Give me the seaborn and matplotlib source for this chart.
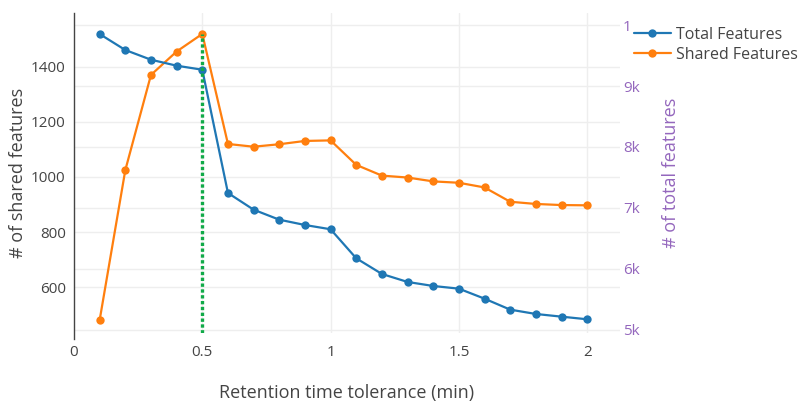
import matplotlib
matplotlib.use("Agg")
import matplotlib.pyplot as plt
import seaborn as sns
import pandas as pd
import numpy as np

# ---- data ----
tolerance = [0.1, 0.2, 0.3, 0.4, 0.5, 0.6, 0.7, 0.8, 0.9, 1.0,
             1.1, 1.2, 1.3, 1.4, 1.5, 1.6, 1.7, 1.8, 1.9, 2.0]
shared_features = [480, 1025, 1371, 1456, 1520, 1120, 1110, 1119, 1131, 1133,
                   1044, 1005, 998, 984, 979, 962, 910, 902, 898, 897]
total_features = [9852, 9590, 9431, 9333, 9267, 7246, 6972, 6808, 6721, 6651,
                  6175, 5918, 5787, 5721, 5677, 5513, 5333, 5262, 5218, 5175]
threshold = 0.5
x_ticks = [0, 0.5, 1, 1.5, 2]
x_tick_labels = ["0", "0.5", "1", "1.5", "2"]
left_ticks = [600, 800, 1000, 1200, 1400]
right_ticks = [5000, 6000, 7000, 8000, 9000, 10000]
right_tick_labels = ["5k", "6k", "7k", "8k", "9k", "1"]

df = pd.DataFrame({"tol": tolerance, "shared": shared_features, "total": total_features})

sns.set_theme(style="white")
plt.rcParams["font.family"] = ["Open Sans", "DejaVu Sans"]

BLUE = "#1f77b4"
ORANGE = "#ff7f0e"
PURPLE = "#9467bd"
GREY = "#444444"
GRID = "#eeeeee"
GREEN = "#10aa48"

fig = plt.figure(figsize=(8, 4.08), dpi=100)
ax = fig.add_axes([74 / 800, 1 - 333 / 408, (620 - 74) / 800, (333 - 13) / 408])
ax2 = ax.twinx()

xlim = (0, 2.128)
ylim_l = (433, 1596)
ylim_r = (4950, 10197)

# gridlines (drawn on the lower axes so they sit under all data)
for t in left_ticks:
    ax.axhline(t, color=GRID, lw=1.0, zorder=0)
for t in right_ticks:
    yl = ylim_l[0] + (t - ylim_r[0]) / (ylim_r[1] - ylim_r[0]) * (ylim_l[1] - ylim_l[0])
    ax.axhline(yl, color=GRID, lw=1.0, zorder=0)
for t in x_ticks[1:]:
    ax.axvline(t, color=GRID, lw=1.0, zorder=0)

sns.lineplot(data=df, x="tol", y="shared", ax=ax, color=ORANGE, marker="o",
             markersize=6, markeredgewidth=0, lw=1.6, label="Shared Features",
             legend=False, zorder=3)
sns.lineplot(data=df, x="tol", y="total", ax=ax2, color=BLUE, marker="o",
             markersize=6, markeredgewidth=0, lw=1.6, label="Total Features",
             legend=False, zorder=3)

# threshold line, from bottom of plot to the shared-features peak (left axis units)
ax2.plot([threshold, threshold], [ylim_l[0], max(shared_features)], transform=ax.transData,
         color=GREEN, lw=2.4, dashes=(1.0, 0.75), solid_capstyle="butt",
         dash_capstyle="butt", zorder=5)

ax.set_xlim(*xlim)
ax.set_ylim(*ylim_l)
ax2.set_ylim(*ylim_r)

ax.set_xticks(x_ticks)
ax.set_xticklabels(x_tick_labels)
ax.set_yticks(left_ticks)
ax2.set_yticks(right_ticks)
ax2.set_yticklabels(right_tick_labels)

ax.tick_params(axis="x", length=0, pad=9, labelsize=11, labelcolor=GREY)
ax.tick_params(axis="y", length=0, pad=6, labelsize=11, labelcolor=GREY)
ax2.tick_params(axis="y", length=0, pad=2, labelsize=11, labelcolor=PURPLE)

for s in ["top", "right", "bottom"]:
    ax.spines[s].set_visible(False)
for s in ax2.spines.values():
    s.set_visible(False)
ax.spines["left"].set_color(GREY)
ax.spines["left"].set_linewidth(1.0)
ax.spines["left"].set_bounds(ylim_l[0] - 20, ylim_l[1])

ax.set_xlabel("Retention time tolerance (min)", fontsize=13, color=GREY, labelpad=17)
ax.set_ylabel("# of shared features", fontsize=13, color=GREY, labelpad=3)
ax2.set_ylabel("# of total features", fontsize=13, color=PURPLE, labelpad=16)

h1, l1 = ax2.get_legend_handles_labels()
h0, l0 = ax.get_legend_handles_labels()
h1 = [h for h in h1 if h.get_label() == "Total Features"]
l1 = ["Total Features"]
fig.legend(h1 + h0, l1 + l0, loc="upper left", bbox_to_anchor=(634 / 800, 1 - 27 / 408),
           frameon=False, fontsize=11.5, labelcolor=GREY, handlelength=2.3,
           handletextpad=0.3, labelspacing=0.25, borderaxespad=0, borderpad=0)

fig.savefig("out.png", dpi=100)
